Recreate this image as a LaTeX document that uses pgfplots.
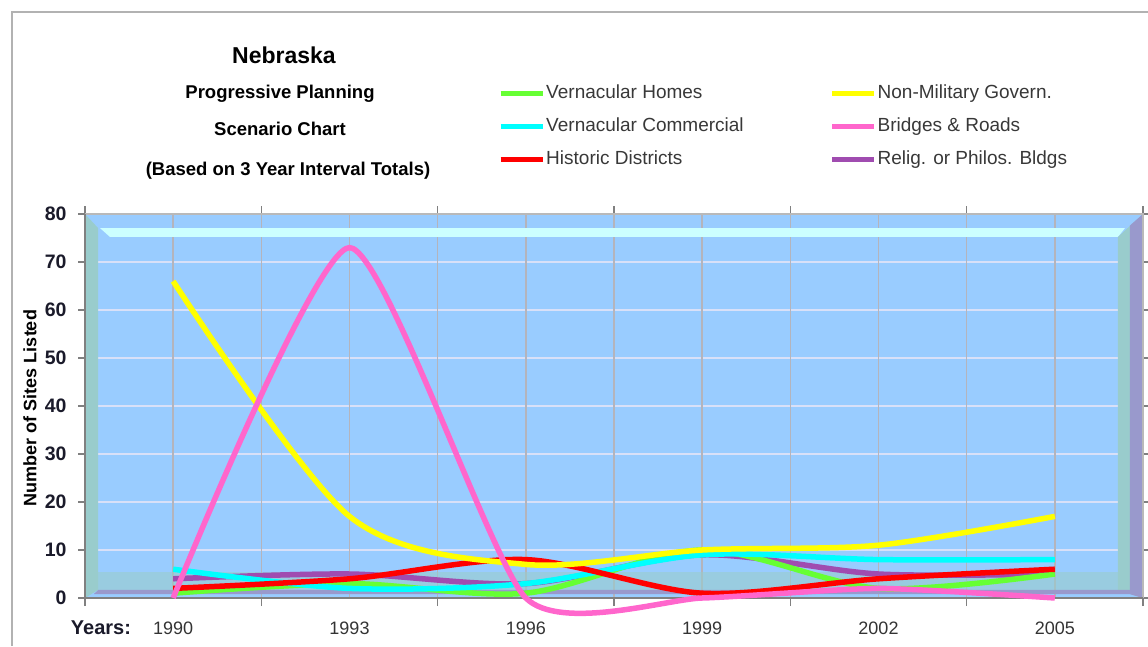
\documentclass[border=0pt]{standalone}
\usepackage{fontspec}
\setmainfont{Liberation Sans}
\usepackage{pgfplots}
\pgfplotsset{compat=1.18}
\definecolor{wallblue}{HTML}{99CCFF}
\definecolor{wallteal}{HTML}{99CCCC}
\definecolor{topstrip}{HTML}{CCFFFF}
\definecolor{wallpurp}{HTML}{9999CC}
\definecolor{hgrid}{HTML}{D8E0F8}
\definecolor{vgrid}{HTML}{B4B4BC}
\definecolor{cgreen}{HTML}{66FF33}
\definecolor{ccyan}{HTML}{00FFFF}
\definecolor{cred}{HTML}{FF0000}
\definecolor{cyellow}{HTML}{FFFF00}
\definecolor{cpink}{HTML}{FF66CC}
\definecolor{cpurple}{HTML}{A04CB0}
\definecolor{txt}{HTML}{1A1A2A}
\definecolor{xtxt}{HTML}{333333}
\definecolor{legtxt}{HTML}{383838}
\begin{document}
\begin{tikzpicture}[x=1pt,y=1pt]
\path[use as bounding box] (0,0) rectangle (1148,646);
\draw[gray!60, line width=1.2pt] (12,0) -- (12,634) -- (1148,634);
% titles
\node[font=\bfseries\fontsize{23}{26}\selectfont] at (284,591) {Nebraska};
\node[font=\bfseries\fontsize{18.5}{21}\selectfont] at (280,552) {Progressive Planning};
\node[font=\bfseries\fontsize{18.5}{21}\selectfont] at (280,517) {Scenario Chart};
\node[font=\bfseries\fontsize{18.5}{21}\selectfont] at (288,475) {(Based on 3 Year Interval Totals)};
\node[font=\bfseries\fontsize{18}{20}\selectfont, rotate=90] at (30,238) {Number of Sites Listed};
\node[font=\bfseries\fontsize{20}{22}\selectfont, txt] at (101,18) {Years:};
\begin{axis}[
  at={(85pt,48pt)}, anchor=south west,
  scale only axis, width=1058pt, height=384pt,
  xmin=-0.5, xmax=5.5, ymin=0, ymax=80,
  clip=false,
  axis line style={draw=none},
  xtick={0,1,2,3,4,5},
  xticklabels={1990,1993,1996,1999,2002,2005},
  minor xtick={-0.5,0.5,1.5,2.5,3.5,4.5,5.5},
  ytick={0,10,...,80},
  tick align=outside,
  major tick length=7pt,
  minor tick length=8pt,
  every major x tick/.append style={draw=none},
  every tick/.append style={gray, line width=1.2pt},
  every minor tick/.append style={gray, line width=1.2pt},
  /pgf/number format/assume math mode=true,
  yticklabel style={xshift=-8pt, font=\bfseries\fontsize{19.5}{21}\selectfont, text=txt},
  xticklabel style={yshift=-13pt, font=\fontsize{18}{20}\selectfont, text=xtxt},
  legend columns=2,
  legend cell align=left,
  legend style={at={(0.3904,1.339)}, anchor=north west, draw=none, fill=none,
    inner sep=0pt, row sep=14pt,
    font=\fontsize{19}{21}\selectfont, text=legtxt,
    nodes={inner sep=1pt, text height=13pt, text depth=4pt},
    /tikz/column 2/.style={column sep=85pt}},
  legend image code/.code={\draw[#1, line width=5pt] (0pt,0pt) -- (42pt,0pt);},
]
% legend (row-wise order)
\addlegendimage{cgreen}\addlegendentry{Vernacular Homes}
\addlegendimage{cyellow}\addlegendentry{Non-Military Govern.}
\addlegendimage{ccyan}\addlegendentry{Vernacular Commercial}
\addlegendimage{cpink}\addlegendentry{Bridges \& Roads}
\addlegendimage{cred}\addlegendentry{Historic Districts}
\addlegendimage{cpurple}\addlegendentry{Relig. or Philos. Bldgs}
% back wall
\fill[wallblue] (axis cs:-0.5,0) rectangle (axis cs:5.5,80);
% horizontal grid
\foreach \v in {10,20,...,70} {
  \edef\tmp{\noexpand\draw[hgrid, line width=1.3pt] (axis cs:-0.5,\v) -- (axis cs:5.5,\v);}\tmp
}
% vertical grid
\foreach \u in {0,0.5,1,1.5,2,2.5,3,3.5,4,4.5,5} {
  \edef\tmp{\noexpand\draw[vgrid, line width=1.4pt] (axis cs:\u,0) -- (axis cs:\u,80);}\tmp
}
% 3D walls
\fill[wallteal] (axis cs:-0.5,80) -- (axis cs:-0.426,77.08) -- (axis cs:-0.426,1.67) -- (axis cs:-0.5,0) -- cycle;
\fill[topstrip] (axis cs:-0.415,77.08) -- (axis cs:5.398,77.08) -- (axis cs:5.358,75.21) -- (axis cs:-0.358,75.21) -- cycle;
\fill[wallteal] (axis cs:5.358,75.21) -- (axis cs:5.5,80) -- (axis cs:5.5,0) -- (axis cs:5.358,1.67) -- cycle;
\fill[wallpurp] (axis cs:5.426,77.6) -- (axis cs:5.5,80) -- (axis cs:5.5,0) -- (axis cs:5.426,0.8) -- cycle;
\fill[wallteal, opacity=0.6] (axis cs:-0.426,5.4) -- (axis cs:5.358,5.4) -- (axis cs:5.426,1.6) -- (axis cs:-0.426,1.6) -- cycle;
\fill[wallpurp] (axis cs:-0.426,1.67) -- (axis cs:5.426,1.67) -- (axis cs:5.426,0.8) -- (axis cs:-0.45,0.8) -- cycle;
% axis lines
\draw[gray!55, line width=1.2pt] (axis cs:-0.5,80) -- (axis cs:5.5,80) -- (axis cs:5.5,0);
\draw[gray, line width=1.6pt] (axis cs:-0.5,80) -- (axis cs:-0.5,0) -- (axis cs:5.5,0);
% data (drawing order: purple, green, cyan, red, yellow, pink)
\addplot[cpurple, line width=5.5pt, smooth, forget plot] coordinates {(0,4) (1,5) (2,3) (3,9) (4,5) (5,5)};
\addplot[cgreen, line width=5.5pt, smooth, forget plot] coordinates {(0,1) (1,3) (2,1) (3,10) (4,2) (5,5)};
\addplot[ccyan, line width=5.5pt, smooth, forget plot] coordinates {(0,6) (1,2) (2,3) (3,9) (4,8) (5,8)};
\addplot[cred, line width=5.5pt, smooth, forget plot] coordinates {(0,2) (1,4) (2,8) (3,1) (4,4) (5,6)};
\addplot[cyellow, line width=5.5pt, smooth, forget plot] coordinates {(0,66) (1,17) (2,7) (3,10) (4,11) (5,17)};
\addplot[cpink, line width=5.5pt, smooth, tension=0.35, forget plot] coordinates {(0,0) (1,73) (2,0) (3,0) (4,2) (5,0)};
\end{axis}
\end{tikzpicture}
\end{document}
